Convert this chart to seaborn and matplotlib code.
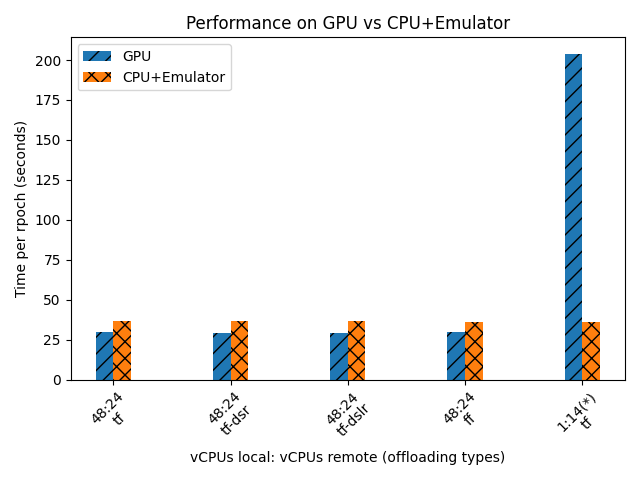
import matplotlib
matplotlib.use("Agg")
import matplotlib.pyplot as plt
import seaborn as sns
import pandas as pd

categories = ["48:24\ntf", "48:24\ntf-dsr", "48:24\ntf-dslr", "48:24\nff", "1:14(*)\ntf"]
gpu = [30.0, 29.3, 29.3, 30.0, 204.0]
cpu_emu = [37.0, 37.0, 37.0, 36.3, 36.3]
series = ["GPU", "CPU+Emulator"]
hatches = ["//", "xx"]

df = pd.DataFrame({
    "config": categories * 2,
    "time": gpu + cpu_emu,
    "series": [series[0]] * len(categories) + [series[1]] * len(categories),
})

fig, ax = plt.subplots(figsize=(6.4, 4.8), dpi=100)
sns.barplot(data=df, x="config", y="time", hue="series", hue_order=series,
            palette=["#1f77b4", "#ff7f0e"], saturation=1, width=0.3,
            dodge=True, ax=ax, legend=False, errorbar=None)

for cont, h in zip(ax.containers, hatches):
    for p in cont.patches:
        p.set_hatch(h)
        p.set_edgecolor("black")
        p.set_linewidth(0)

ax.legend(handles=list(ax.containers), labels=series, loc="upper left")

ax.autoscale(enable=True, axis="x")
ax.margins(x=0.05)
ax.relim()
ax.autoscale_view()
ax.set_ylim(bottom=0)

ax.set_title("Performance on GPU vs CPU+Emulator")
ax.set_xlabel("vCPUs local: vCPUs remote (offloading types)")
ax.set_ylabel("Time per rpoch (seconds)")
plt.setp(ax.get_xticklabels(), rotation=45)
fig.tight_layout()
fig.savefig("out.png", dpi=100)
